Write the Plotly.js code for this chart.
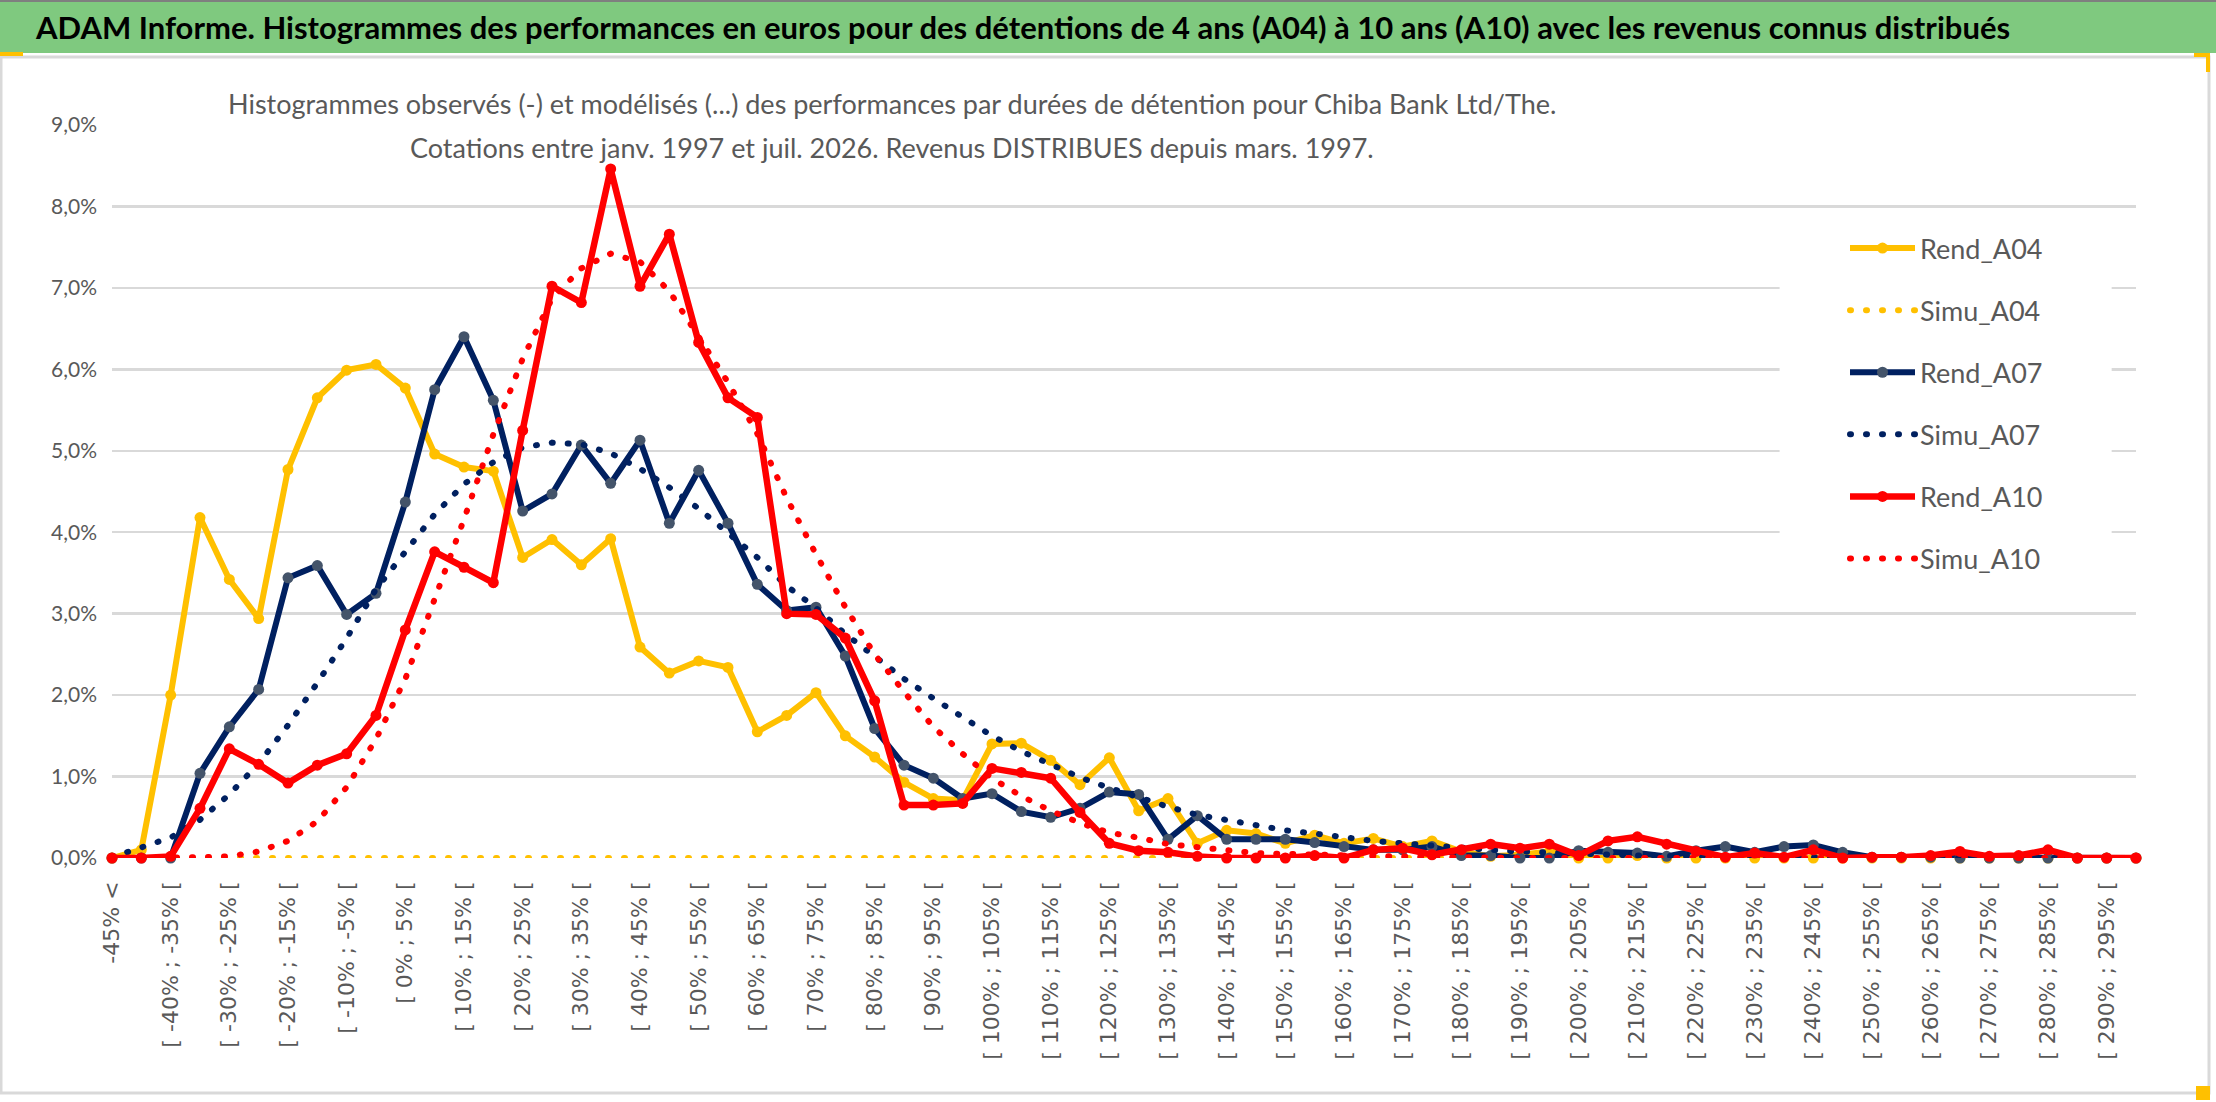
<!DOCTYPE html>
<html>
<head>
<meta charset="utf-8">
<script src="https://cdn.plot.ly/plotly-3.0.1.min.js"></script>
<style>html,body{margin:0;padding:0;background:#fff;}</style>
</head>
<body>
<div id="chart" style="width:2216px;height:1102px;"></div>
<script>
// tranches de performance (axe des x)
var categories = ["-45% <",
  "[ -45% ; -40% [", "[ -40% ; -35% [", "[ -35% ; -30% [", "[ -30% ; -25% [", "[ -25% ; -20% [",
  "[ -20% ; -15% [", "[ -15% ; -10% [", "[ -10% ; -5% [", "[ -5% ; 0% [", "[ 0% ; 5% [",
  "[ 5% ; 10% [", "[ 10% ; 15% [", "[ 15% ; 20% [", "[ 20% ; 25% [", "[ 25% ; 30% [",
  "[ 30% ; 35% [", "[ 35% ; 40% [", "[ 40% ; 45% [", "[ 45% ; 50% [", "[ 50% ; 55% [",
  "[ 55% ; 60% [", "[ 60% ; 65% [", "[ 65% ; 70% [", "[ 70% ; 75% [", "[ 75% ; 80% [",
  "[ 80% ; 85% [", "[ 85% ; 90% [", "[ 90% ; 95% [", "[ 95% ; 100% [", "[ 100% ; 105% [",
  "[ 105% ; 110% [", "[ 110% ; 115% [", "[ 115% ; 120% [", "[ 120% ; 125% [", "[ 125% ; 130% [",
  "[ 130% ; 135% [", "[ 135% ; 140% [", "[ 140% ; 145% [", "[ 145% ; 150% [", "[ 150% ; 155% [",
  "[ 155% ; 160% [", "[ 160% ; 165% [", "[ 165% ; 170% [", "[ 170% ; 175% [", "[ 175% ; 180% [",
  "[ 180% ; 185% [", "[ 185% ; 190% [", "[ 190% ; 195% [", "[ 195% ; 200% [", "[ 200% ; 205% [",
  "[ 205% ; 210% [", "[ 210% ; 215% [", "[ 215% ; 220% [", "[ 220% ; 225% [", "[ 225% ; 230% [",
  "[ 230% ; 235% [", "[ 235% ; 240% [", "[ 240% ; 245% [", "[ 245% ; 250% [", "[ 250% ; 255% [",
  "[ 255% ; 260% [", "[ 260% ; 265% [", "[ 265% ; 270% [", "[ 270% ; 275% [", "[ 275% ; 280% [",
  "[ 280% ; 285% [", "[ 285% ; 290% [", "[ 290% ; 295% [", "[ 295% ; 300% ["];

// frequences en %
var rendA04 = [0, 0.1, 2.0, 4.18, 3.42, 2.94, 4.77, 5.65, 5.99, 6.06,
  5.77, 4.96, 4.80, 4.75, 3.69, 3.91, 3.60, 3.92, 2.59, 2.27,
  2.42, 2.34, 1.55, 1.75, 2.03, 1.50, 1.24, 0.93, 0.73, 0.71,
  1.40, 1.41, 1.20, 0.90, 1.23, 0.58, 0.73, 0.18, 0.34, 0.30,
  0.18, 0.28, 0.18, 0.24, 0.14, 0.21, 0.08, 0.02, 0.04, 0.08,
  0, 0, 0.03, 0, 0, 0, 0, 0, 0, 0,
  0, 0, 0, 0, 0, 0, 0, 0, 0, 0];
var simuA04 = [0, 0, 0, 0, 0, 0, 0, 0, 0, 0,
  0, 0, 0, 0, 0, 0, 0, 0, 0, 0,
  0, 0, 0, 0, 0, 0, 0, 0, 0, 0,
  0, 0, 0, 0, 0, 0, 0, 0, 0, 0,
  0, 0, 0, 0, 0, 0, 0, 0, 0, 0,
  0, 0, 0, 0, 0, 0, 0, 0, 0, 0,
  0, 0, 0, 0, 0, 0, 0, 0, 0, 0];
var rendA07 = [0, 0, 0, 1.04, 1.61, 2.07, 3.44, 3.59, 2.99, 3.25,
  4.37, 5.75, 6.40, 5.62, 4.26, 4.47, 5.07, 4.60, 5.13, 4.11,
  4.76, 4.11, 3.36, 3.04, 3.08, 2.48, 1.59, 1.14, 0.98, 0.73,
  0.79, 0.57, 0.50, 0.61, 0.81, 0.78, 0.23, 0.52, 0.23, 0.23,
  0.23, 0.19, 0.14, 0.10, 0.10, 0.14, 0.03, 0.03, 0, 0,
  0.09, 0.07, 0.06, 0.02, 0.09, 0.14, 0.07, 0.14, 0.16, 0.07,
  0.01, 0.01, 0.01, 0, 0, 0, 0, 0, 0, 0];
var simuA07 = [0.01, 0.13, 0.25, 0.47, 0.78, 1.16, 1.63, 2.15, 2.70, 3.30,
  3.77, 4.22, 4.59, 4.86, 5.04, 5.10, 5.08, 4.97, 4.78, 4.55,
  4.29, 3.99, 3.69, 3.34, 3.07, 2.75, 2.47, 2.20, 1.96, 1.74,
  1.50, 1.31, 1.14, 0.99, 0.86, 0.74, 0.63, 0.53, 0.47, 0.41,
  0.34, 0.30, 0.25, 0.21, 0.18, 0.15, 0.13, 0.10, 0.08, 0.065,
  0.05, 0.04, 0.03, 0.025, 0.02, 0.015, 0.01, 0.01, 0.01, 0.005,
  0, 0, 0, 0, 0, 0, 0, 0, 0, 0];
var rendA10 = [0, 0, 0.02, 0.61, 1.34, 1.15, 0.92, 1.14, 1.28, 1.75,
  2.80, 3.76, 3.57, 3.38, 5.25, 7.02, 6.82, 8.46, 7.02, 7.66,
  6.33, 5.65, 5.41, 3.00, 2.99, 2.70, 1.93, 0.65, 0.65, 0.67,
  1.10, 1.05, 0.98, 0.56, 0.18, 0.09, 0.07, 0.02, 0, 0,
  0, 0.03, 0, 0.10, 0.12, 0.04, 0.10, 0.17, 0.12, 0.17,
  0.03, 0.21, 0.26, 0.17, 0.08, 0.01, 0.06, 0.01, 0.10, 0,
  0.01, 0.01, 0.03, 0.08, 0.02, 0.03, 0.10, 0, 0, 0];
var simuA10 = [0, 0, 0, 0.01, 0.02, 0.08, 0.21, 0.45, 0.87, 1.46,
  2.20, 3.17, 4.16, 5.20, 6.13, 6.87, 7.24, 7.42, 7.32, 6.96,
  6.39, 5.84, 5.21, 4.42, 3.73, 3.08, 2.50, 2.04, 1.61, 1.28,
  0.98, 0.76, 0.58, 0.43, 0.31, 0.25, 0.17, 0.13, 0.09, 0.06,
  0.05, 0.04, 0.03, 0.02, 0.02, 0.01, 0.01, 0, 0, 0,
  0, 0, 0, 0, 0, 0, 0, 0, 0, 0,
  0, 0, 0, 0, 0, 0, 0, 0, 0, 0];

var W = 2216, H = 1102;
var mL = 112, mR = 80, mT = 125, mB = 244;
var sans = 'Lato, "Open Sans", sans-serif';
var grey = '#595959';

// pixel -> paper helpers
function px(x) { return (x - mL) / (W - mL - mR); }
function py(y) { return (H - mB - y) / (H - mT - mB); }

function rend(name, y, color, mcolor, w) {
  return {x: categories, y: y, name: name, type: 'scatter', mode: 'lines+markers',
    line: {color: color, width: w}, marker: {color: mcolor, size: 11, symbol: 'circle'},
    cliponaxis: false, legendgroup: name};
}
function simu(name, y, color) {
  return {x: categories, y: y, name: name, type: 'scatter', mode: 'lines',
    line: {color: color, width: 6, dash: '1px,15px'}, cliponaxis: false, legendgroup: name};
}

var data = [
  rend('Rend_A04', rendA04, '#FFC000', '#FFC000', 6),
  simu('Simu_A04', simuA04, '#FFC000'),
  rend('Rend_A07', rendA07, '#002060', '#44546A', 6),
  simu('Simu_A07', simuA07, '#002060'),
  rend('Rend_A10', rendA10, '#FF0000', '#FF0000', 6.5),
  simu('Simu_A10', simuA10, '#FF0000')
];

var evenLabels = categories.filter(function (c, i) { return i % 2 === 0; });
var gridIdx = categories.map(function (c, i) { return i; }).filter(function (i) { return i % 4 === 0; });

var layout = {
  width: W, height: H,
  margin: {l: mL, r: mR, t: mT, b: mB},
  paper_bgcolor: '#ffffff', plot_bgcolor: '#ffffff',
  separators: ', ',
  showlegend: true,
  title: {
    text: '<b>ADAM Informe. Histogrammes des performances en euros pour des détentions de 4 ans (A04) à 10 ans (A10) avec les revenus connus distribués</b>',
    font: {family: sans, size: 31, color: '#000000'},
    xref: 'container', yref: 'container', x: 36 / W, xanchor: 'left', y: 1 - 28 / H, yanchor: 'middle'
  },
  xaxis: {
    type: 'category', range: [0, 69],
    tickmode: 'array', tickvals: evenLabels, ticktext: evenLabels,
    tickangle: -90, ticks: '', showgrid: false, zeroline: false, showline: false,
    ticklabelstandoff: 18,
    tickfont: {family: '"DejaVu Sans", sans-serif', size: 22, color: grey}
  },
  xaxis2: {
    overlaying: 'x', anchor: 'y', range: [0, 69],
    tickmode: 'array', tickvals: gridIdx, showticklabels: false, ticks: '',
    showgrid: true, gridcolor: '#d9d9d9', gridwidth: 2, zeroline: false, showline: false
  },
  yaxis: {
    range: [0, 9], tickmode: 'linear', tick0: 0, dtick: 1,
    tickformat: '.1f', ticksuffix: '%',
    showgrid: true, gridcolor: '#d9d9d9', gridwidth: 2.5, zeroline: false, showline: false,
    ticks: '', ticklabelstandoff: 14,
    tickfont: {family: sans, size: 21, color: grey}
  },
  legend: {
    x: px(1845), y: py(224), xanchor: 'left', yanchor: 'top',
    bgcolor: 'rgba(0,0,0,0)', traceorder: 'grouped', tracegroupgap: 24,
    itemwidth: 65,
    font: {family: sans, size: 27, color: grey}
  },
  annotations: [
    {text: 'Histogrammes observés (-) et modélisés (...) des performances par durées de détention pour Chiba Bank Ltd/The.',
      xref: 'paper', yref: 'paper', x: px(892), y: py(103), xanchor: 'center', yanchor: 'middle',
      showarrow: false, font: {family: sans, size: 27, color: grey}},
    {text: 'Cotations entre janv. 1997 et juil. 2026. Revenus DISTRIBUES depuis mars. 1997.',
      xref: 'paper', yref: 'paper', x: px(892), y: py(147), xanchor: 'center', yanchor: 'middle',
      showarrow: false, font: {family: sans, size: 27, color: grey}}
  ],
  shapes: [
    // bandeau vert du titre
    {type: 'rect', xref: 'paper', yref: 'paper', layer: 'below',
      x0: px(0), x1: px(W), y0: py(0), y1: py(53), fillcolor: '#7fc97f', line: {width: 0}},
    {type: 'line', xref: 'paper', yref: 'paper', layer: 'below',
      x0: px(0), x1: px(W), y0: py(1), y1: py(1), line: {color: '#7f7f7f', width: 2}},
    // cadre du graphique
    {type: 'rect', xref: 'paper', yref: 'paper', layer: 'below',
      x0: px(1), x1: px(2209), y0: py(57), y1: py(1093), line: {color: '#d9d9d9', width: 3}},
    // poignees jaunes
    {type: 'rect', xref: 'paper', yref: 'paper', layer: 'above',
      x0: px(0), x1: px(23), y0: py(52), y1: py(56), fillcolor: '#FFC000', line: {width: 0}},
    {type: 'rect', xref: 'paper', yref: 'paper', layer: 'above',
      x0: px(2194), x1: px(2210), y0: py(53), y1: py(57), fillcolor: '#FFC000', line: {width: 0}},
    {type: 'rect', xref: 'paper', yref: 'paper', layer: 'above',
      x0: px(2206), x1: px(2210), y0: py(53), y1: py(72), fillcolor: '#FFC000', line: {width: 0}},
    {type: 'rect', xref: 'paper', yref: 'paper', layer: 'above',
      x0: px(2196), x1: px(2210), y0: py(1086), y1: py(1100), fillcolor: '#FFC000', line: {width: 0}},
    // fonds blancs du sous-titre et de la legende (sous les courbes)
    {type: 'rect', xref: 'x', yref: 'y', layer: 'between',
      x0: 3.41, x1: 49.8, y0: 8.44, y1: 9.5, fillcolor: '#ffffff', line: {width: 0}},
    {type: 'rect', xref: 'x', yref: 'y', layer: 'between',
      x0: 56.85, x1: 68.17, y0: 3.33, y1: 7.87, fillcolor: '#ffffff', line: {width: 0}}
  ]
};

Plotly.newPlot('chart', data, layout, {staticPlot: true}).then(function (gd) {
  // pointilles ronds comme dans Excel
  var paths = gd.querySelectorAll('path');
  paths.forEach(function (p) {
    var d = p.style.strokeDasharray || '';
    if (d.indexOf('15px') >= 0) { p.style.strokeLinecap = 'round'; }
  });
});
</script>
</body>
</html>
